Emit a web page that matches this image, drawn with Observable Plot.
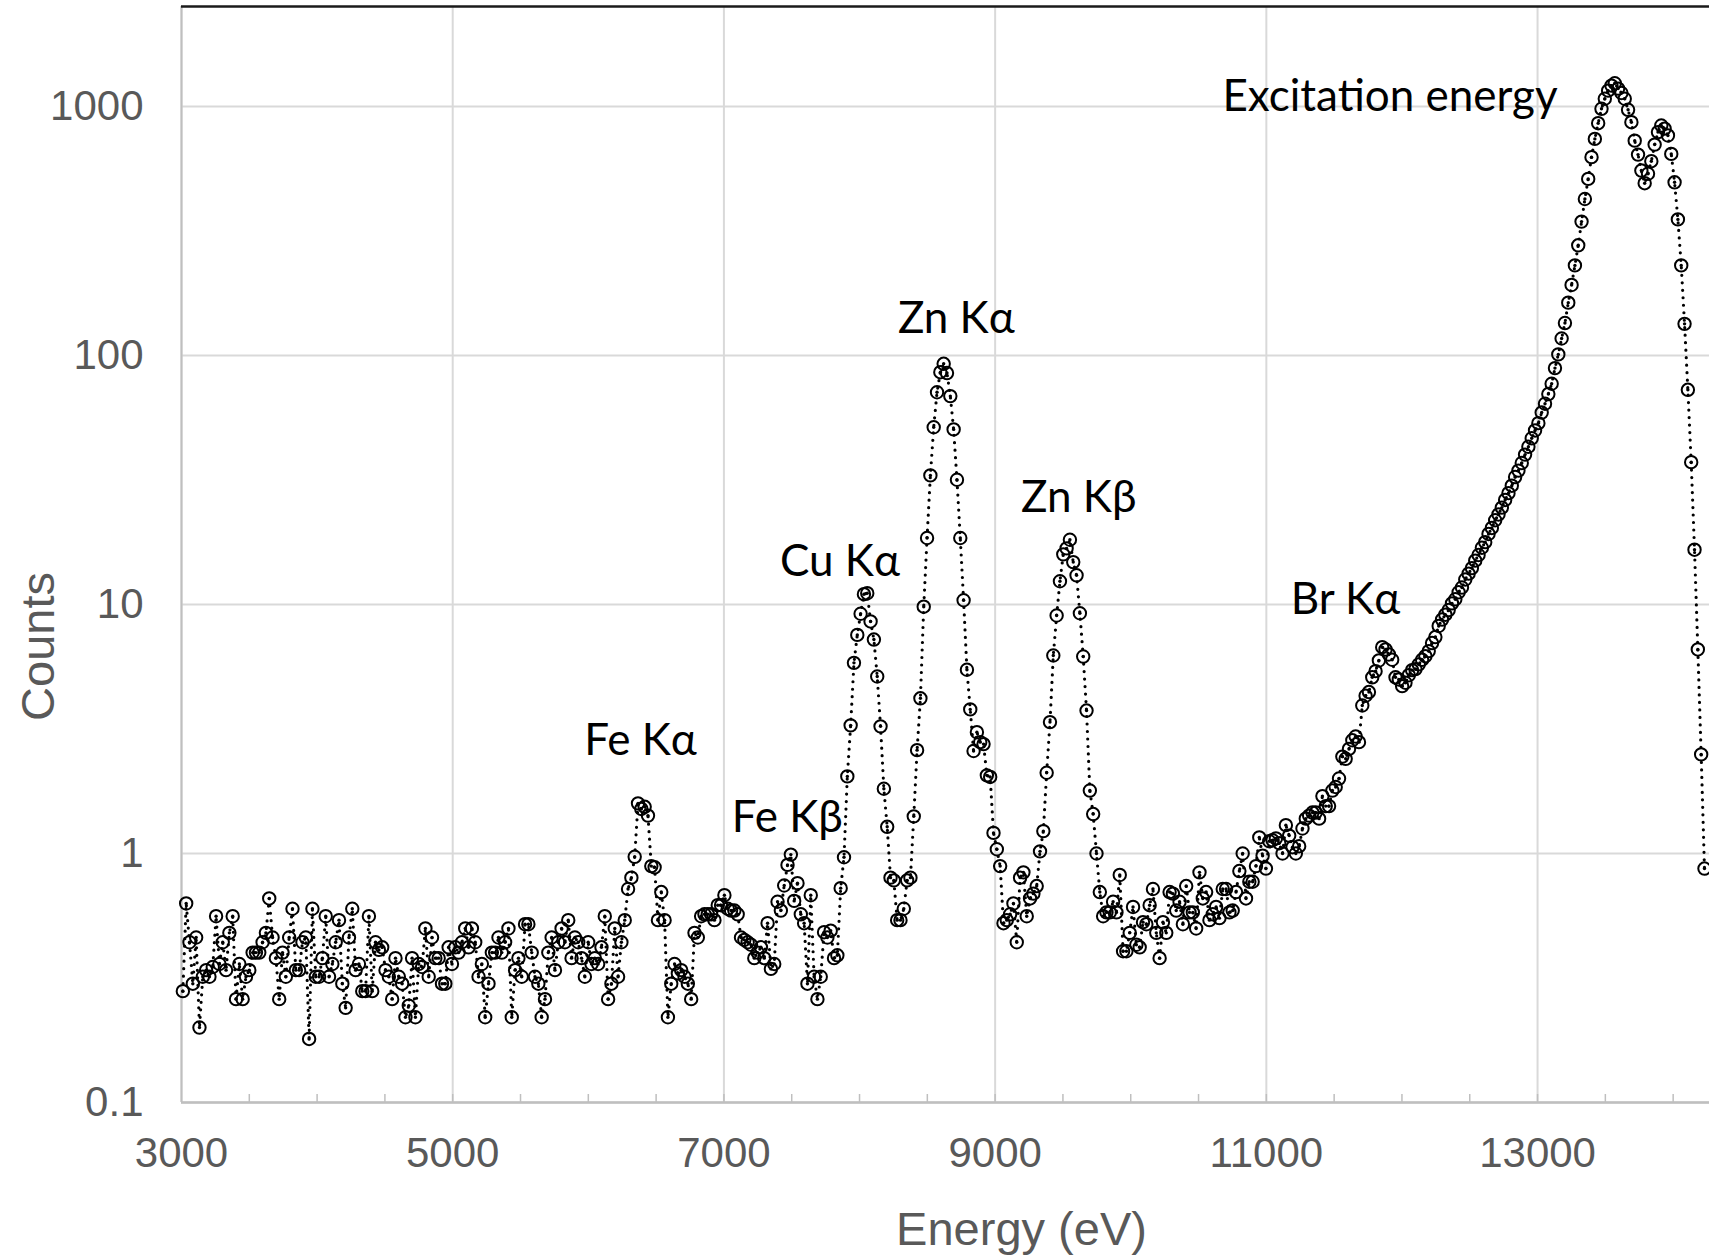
<!DOCTYPE html>
<html>
<head>
<meta charset="utf-8">
<script src="https://cdn.jsdelivr.net/npm/d3@7"></script>
<script src="https://cdn.jsdelivr.net/npm/@observablehq/plot@0.6"></script>
<style>
  html, body { margin: 0; padding: 0; background: #fff; overflow: hidden; }
  #chart svg { display: block; }
</style>
</head>
<body>
<div id="chart"></div>
<script>
// Energy of each channel (eV)
const energy = [
  3010,3034.5,3059,3083.5,3108,3132.5,3157,3181.5,3206,3230.5,
  3255,3279.5,3304,3328.5,3353,3377.5,3402,3426.5,3451,3475.5,
  3500,3524.5,3549,3573.5,3598,3622.5,3647,3671.5,3696,3720.5,
  3745,3769.5,3794,3818.5,3843,3867.5,3892,3916.5,3941,3965.5,
  3990,4014.5,4039,4063.5,4088,4112.5,4137,4161.5,4186,4210.5,
  4235,4259.5,4284,4308.5,4333,4357.5,4382,4406.5,4431,4455.5,
  4480,4504.5,4529,4553.5,4578,4602.5,4627,4651.5,4676,4700.5,
  4725,4749.5,4774,4798.5,4823,4847.5,4872,4896.5,4921,4945.5,
  4970,4994.5,5019,5043.5,5068,5092.5,5117,5141.5,5166,5190.5,
  5215,5239.5,5264,5288.5,5313,5337.5,5362,5386.5,5411,5435.5,
  5460,5484.5,5509,5533.5,5558,5582.5,5607,5631.5,5656,5680.5,
  5705,5729.5,5754,5778.5,5803,5827.5,5852,5876.5,5901,5925.5,
  5950,5974.5,5999,6023.5,6048,6072.5,6097,6121.5,6146,6170.5,
  6195,6219.5,6244,6268.5,6293,6317.5,6342,6366.5,6391,6415.5,
  6440,6464.5,6489,6513.5,6538,6562.5,6587,6611.5,6636,6660.5,
  6685,6709.5,6734,6758.5,6783,6807.5,6832,6856.5,6881,6905.5,
  6930,6954.5,6979,7003.5,7028,7052.5,7077,7101.5,7126,7150.5,
  7175,7199.5,7224,7248.5,7273,7297.5,7322,7346.5,7371,7395.5,
  7420,7444.5,7469,7493.5,7518,7542.5,7567,7591.5,7616,7640.5,
  7665,7689.5,7714,7738.5,7763,7787.5,7812,7836.5,7861,7885.5,
  7910,7934.5,7959,7983.5,8008,8032.5,8057,8081.5,8106,8130.5,
  8155,8179.5,8204,8228.5,8253,8277.5,8302,8326.5,8351,8375.5,
  8400,8424.5,8449,8473.5,8498,8522.5,8547,8571.5,8596,8620.5,
  8645,8669.5,8694,8718.5,8743,8767.5,8792,8816.5,8841,8865.5,
  8890,8914.5,8939,8963.5,8988,9012.5,9037,9061.5,9086,9110.5,
  9135,9159.5,9184,9208.5,9233,9257.5,9282,9306.5,9331,9355.5,
  9380,9404.5,9429,9453.5,9478,9502.5,9527,9551.5,9576,9600.5,
  9625,9649.5,9674,9698.5,9723,9747.5,9772,9796.5,9821,9845.5,
  9870,9894.5,9919,9943.5,9968,9992.5,10017,10041.5,10066,10090.5,
  10115,10139.5,10164,10188.5,10213,10237.5,10262,10286.5,10311,10335.5,
  10360,10384.5,10409,10433.5,10458,10482.5,10507,10531.5,10556,10580.5,
  10605,10629.5,10654,10678.5,10703,10727.5,10752,10776.5,10801,10825.5,
  10850,10874.5,10899,10923.5,10948,10972.5,10997,11021.5,11046,11070.5,
  11095,11119.5,11144,11168.5,11193,11217.5,11242,11266.5,11291,11315.5,
  11340,11364.5,11389,11413.5,11438,11462.5,11487,11511.5,11536,11560.5,
  11585,11609.5,11634,11658.5,11683,11707.5,11732,11756.5,11781,11805.5,
  11830,11854.5,11879,11903.5,11928,11952.5,11977,12001.5,12026,12050.5,
  12075,12099.5,12124,12148.5,12173,12197.5,12222,12246.5,12271,12295.5,
  12320,12344.5,12369,12393.5,12418,12442.5,12467,12491.5,12516,12540.5,
  12565,12589.5,12614,12638.5,12663,12687.5,12712,12736.5,12761,12785.5,
  12810,12834.5,12859,12883.5,12908,12932.5,12957,12981.5,13006,13030.5,
  13055,13079.5,13104,13128.5,13153,13177.5,13202,13226.5,13251,13275.5,
  13300,13324.5,13349,13373.5,13398,13422.5,13447,13471.5,13496,13520.5,
  13545,13569.5,13594,13618.5,13643,13667.5,13692,13716.5,13741,13765.5,
  13790,13814.5,13839,13863.5,13888,13912.5,13937,13961.5,13986,14010.5,
  14035,14059.5,14084,14108.5,14133,14157.5,14182,14206.5,14231
];

// Counts in each channel
const counts = [
  0.28,0.63,0.44,0.30,0.46,0.20,0.32,0.34,0.32,0.35,
  0.56,0.36,0.44,0.34,0.48,0.56,0.26,0.36,0.26,0.32,
  0.34,0.40,0.40,0.40,0.44,0.48,0.66,0.46,0.38,0.26,
  0.40,0.32,0.46,0.60,0.34,0.34,0.44,0.46,0.18,0.60,
  0.32,0.32,0.38,0.56,0.32,0.36,0.44,0.54,0.30,0.24,
  0.46,0.60,0.34,0.36,0.28,0.28,0.56,0.28,0.44,0.41,
  0.42,0.34,0.32,0.26,0.38,0.32,0.30,0.22,0.245,0.38,
  0.22,0.36,0.35,0.50,0.32,0.46,0.38,0.38,0.30,0.30,
  0.42,0.36,0.42,0.40,0.44,0.50,0.42,0.50,0.44,0.32,
  0.36,0.22,0.30,0.40,0.40,0.46,0.40,0.44,0.50,0.22,
  0.34,0.38,0.32,0.52,0.52,0.40,0.32,0.30,0.22,0.26,
  0.40,0.46,0.34,0.44,0.50,0.44,0.54,0.38,0.46,0.44,
  0.38,0.32,0.44,0.36,0.38,0.36,0.42,0.56,0.26,0.30,
  0.50,0.32,0.44,0.54,0.72,0.80,0.97,1.59,1.51,1.54,
  1.42,0.89,0.88,0.54,0.70,0.54,0.22,0.30,0.36,0.33,
  0.34,0.32,0.30,0.26,0.48,0.46,0.56,0.57,0.57,0.57,
  0.54,0.62,0.62,0.68,0.60,0.59,0.59,0.57,0.46,0.45,
  0.44,0.43,0.38,0.40,0.42,0.38,0.525,0.344,0.36,0.64,
  0.59,0.744,0.90,0.99,0.645,0.76,0.57,0.525,0.30,0.68,
  0.32,0.26,0.32,0.483,0.46,0.49,0.38,0.39,0.726,0.966,
  2.04,3.27,5.83,7.55,9.18,11.0,11.1,8.55,7.23,5.14,
  3.24,1.82,1.28,0.80,0.78,0.54,0.54,0.60,0.78,0.80,
  1.41,2.6,4.2,9.8,18.5,33.0,51.5,71.2,85.7,92.6,
  85,68.7,50.5,31.7,18.5,10.4,5.47,3.79,2.58,3.07,
  2.8,2.75,2.06,2.03,1.21,1.04,0.89,0.525,0.54,0.57,
  0.63,0.44,0.80,0.84,0.56,0.66,0.69,0.74,1.02,1.23,
  2.11,3.37,6.24,9.03,12.4,15.9,16.8,18.2,14.8,13.1,
  9.22,6.18,3.75,1.79,1.44,1.0,0.70,0.56,0.58,0.58,
  0.64,0.58,0.82,0.405,0.405,0.48,0.61,0.43,0.42,0.53,
  0.52,0.62,0.72,0.48,0.38,0.53,0.48,0.70,0.69,0.59,
  0.64,0.52,0.74,0.58,0.58,0.50,0.84,0.66,0.70,0.54,
  0.57,0.61,0.55,0.72,0.72,0.58,0.59,0.70,0.85,1.0,
  0.66,0.77,0.77,0.89,1.16,0.98,0.87,1.12,1.13,1.15,
  1.10,1.0,1.30,1.18,1.06,1.0,1.07,1.26,1.38,1.42,
  1.46,1.46,1.38,1.70,1.55,1.55,1.79,1.85,2.0,2.45,
  2.4,2.63,2.85,2.95,2.8,3.93,4.3,4.45,5.1,5.4,
  5.96,6.74,6.6,6.3,6.0,5.1,5.0,4.7,4.85,5.2,
  5.45,5.5,5.75,6.0,6.2,6.5,7.0,7.4,8.2,8.7,
  9.1,9.5,10.1,10.5,11.2,11.7,12.6,13.3,14.0,15.0,
  15.8,16.9,17.8,19.2,20.3,21.8,23.0,24.5,26.3,28.0,
  30.0,32.5,34.5,37.0,40.0,43.0,46.5,50.0,53.5,59.0,
  64,70,77,89,101,117,135,163,192,230,
  277,345,425,512,626,741,857,979,1074,1158,
  1213,1240,1180,1133,1074,970,865,729,641,553,
  492,537,603,703,789,839,815,765,645,496,
  352,230,134,72.8,37.3,16.6,6.6,2.5,0.87
];

// Axis ticks
const xTicks = [3000, 5000, 7000, 9000, 11000, 13000];
const xMinorTicks = [3500, 4000, 4500, 5000, 5500, 6000, 6500, 7000, 7500, 8000, 8500,
  9000, 9500, 10000, 10500, 11000, 11500, 12000, 12500, 13000, 13500, 14000];
const yTicks = [0.1, 1, 10, 100, 1000];
const xDomain = [3000, 14268];
const yDomain = [0.1, 2521];

// Peak annotations
const peakLabels  = ["Excitation energy", "Zn Kα", "Zn Kβ", "Cu Kα", "Br Kα", "Fe Kα", "Fe Kβ"];
const peakEnergy  = [11912, 8714, 9617, 7856, 11584, 6385, 7467];
const peakCounts  = [955, 123.4, 23.5, 13.0, 9.12, 2.475, 1.218];

const data = energy.map((e, i) => ({energy: e, counts: counts[i]}));
const annotations = peakLabels.map((t, i) => ({label: t, energy: peakEnergy[i], counts: peakCounts[i]}));

const plot = Plot.plot({
  width: 1709,
  height: 1255,
  marginLeft: 181,
  marginRight: 0,
  marginTop: 6,
  marginBottom: 153,
  style: {
    fontFamily: "'Liberation Sans', Arial, sans-serif",
    fontSize: "42px",
    color: "#595959",
    background: "#ffffff",
    overflow: "hidden"
  },
  x: {domain: xDomain},
  y: {type: "log", domain: yDomain},
  marks: [
    Plot.gridX({ticks: xTicks, stroke: "#d9d9d9", strokeOpacity: 1, strokeWidth: 2}),
    Plot.gridY({ticks: yTicks, stroke: "#d9d9d9", strokeOpacity: 1, strokeWidth: 2}),
    Plot.ruleX(xMinorTicks, {x: d => d, insetTop: 1088, stroke: "#bfbfbf", strokeWidth: 1.5}),
    Plot.ruleX([xDomain[0]], {stroke: "#bfbfbf", strokeWidth: 2}),
    Plot.ruleY([yDomain[0]], {stroke: "#bfbfbf", strokeWidth: 2.5}),
    Plot.axisX({ticks: xTicks, tickSize: 0, tickPadding: 35, tickFormat: d => String(d), label: null}),
    Plot.axisY({ticks: yTicks, tickSize: 0, tickPadding: 38, tickFormat: d => String(d), label: null}),
    Plot.line(data, {x: "energy", y: "counts", stroke: "#000", strokeWidth: 3.2,
      strokeDasharray: "0 7.5", strokeLinecap: "round"}),
    Plot.dot(data, {x: "energy", y: "counts", r: 6.2, stroke: "#000", strokeWidth: 2, fill: "none"}),
    Plot.dot(data, {x: "energy", y: "counts", r: 1.7, fill: "#000", stroke: "none"}),
    Plot.text(annotations, {x: "energy", y: "counts", text: "label", textAnchor: "middle",
      lineAnchor: "bottom", fontFamily: "Lato, 'Noto Sans', sans-serif", fontSize: 44, fill: "#000"}),
    Plot.text(["Energy (eV)"], {frameAnchor: "bottom-left", dx: 840, dy: 142, textAnchor: "middle",
      lineAnchor: "bottom", fontSize: 47, fill: "#595959"}),
    Plot.text(["Counts"], {frameAnchor: "left", dx: -128, dy: 92, rotate: -90, textAnchor: "middle",
      lineAnchor: "bottom", fontSize: 47, fill: "#595959"}),
    Plot.ruleY([yDomain[1]], {stroke: "#1a1a1a", strokeWidth: 2.5})
  ]
});

document.getElementById("chart").appendChild(plot);
</script>
</body>
</html>
